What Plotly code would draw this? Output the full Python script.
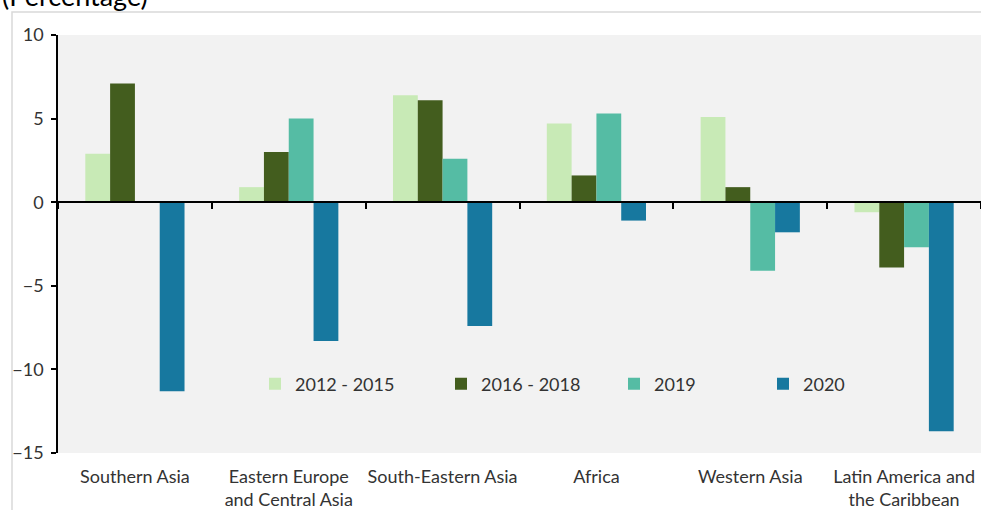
import plotly.graph_objects as go

categories = ["Southern Asia", "Eastern Europe<br>and Central Asia", "South-Eastern Asia",
              "Africa", "Western Asia", "Latin America and<br>the Caribbean"]
series_names = ["2012 - 2015", "2016 - 2018", "2019", "2020"]
v_2012_2015 = [2.9, 0.9, 6.4, 4.7, 5.1, -0.6]
v_2016_2018 = [7.1, 3.0, 6.1, 1.6, 0.9, -3.9]
v_2019 = [None, 5.0, 2.6, 5.3, -4.1, -2.7]
v_2020 = [-11.3, -8.3, -7.4, -1.1, -1.8, -13.7]
y_ticks = [-15, -10, -5, 0, 5, 10]

colors = ["#c8eab6", "#435d1e", "#55bca4", "#17789f"]
values = [v_2012_2015, v_2016_2018, v_2019, v_2020]
legend_ids = ["legend", "legend2", "legend3", "legend4"]
legend_px = [255, 441, 614, 763]   # left pixel of each legend entry

W, H = 981, 510
ml, mr, mt, mb = 58, 0, 35, 57
pw = W - ml - mr
ph = H - mt - mb

font_family = "Lato, 'Open Sans', sans-serif"
txt_col = "#333333"
fs = 18

fig = go.Figure()
for name, vals, col, lid in zip(series_names, values, colors, legend_ids):
    fig.add_trace(go.Bar(x=categories, y=vals, name=name, legend=lid,
                         marker=dict(color=col, line=dict(width=0))))

# invisible trace on the crossing axis so it renders
fig.add_trace(go.Scatter(x=categories, y=[0] * len(categories), xaxis="x2", yaxis="y",
                         mode="markers", marker=dict(opacity=0), showlegend=False,
                         hoverinfo="skip"))

legends = {}
for lid, px in zip(legend_ids, legend_px):
    legends[lid] = dict(orientation="h", x=(px - ml) / pw, xanchor="left",
                        y=(H - mb - 384) / ph, yanchor="middle",
                        bgcolor="rgba(0,0,0,0)", borderwidth=0,
                        font=dict(size=fs, color=txt_col, family=font_family))

fig.update_layout(
    width=W, height=H,
    margin=dict(l=ml, r=mr, t=mt, b=mb, autoexpand=False),
    paper_bgcolor="white",
    plot_bgcolor="#f2f2f2",
    barmode="group",
    bargap=0.355,
    bargroupgap=0,
    font=dict(family=font_family, size=fs, color=txt_col),
    xaxis=dict(type="category", categoryarray=categories, range=[-0.5, 5.5],
               showline=False, ticks="", showgrid=False, zeroline=False, automargin=False,
               tickfont=dict(size=fs, color=txt_col), ticklabelstandoff=11),
    xaxis2=dict(type="category", categoryarray=categories, range=[-0.5, 5.5],
                overlaying="x", anchor="free", position=15 / 25, automargin=False,
                showline=True, linecolor="#000000", linewidth=1.5,
                ticks="outside", tickson="boundaries", ticklen=6, tickwidth=1.5,
                tickcolor="#000000", showticklabels=False, showgrid=False, zeroline=False),
    yaxis=dict(range=[-15, 10], tickvals=y_ticks, showgrid=False, automargin=False,
               showline=True, linecolor="#000000", linewidth=1.5,
               ticks="outside", ticklen=5, tickwidth=1.5, tickcolor="#000000",
               zeroline=False, tickfont=dict(size=fs, color=txt_col),
               ticklabelstandoff=4),
    showlegend=True,
    **legends,
)

# outer frame border
fig.add_shape(type="rect", xref="paper", yref="paper",
              x0=(12 - ml) / pw, x1=(W + 20 - ml) / pw,
              y0=-(H + 20 - mt - ph) / ph, y1=1 + (mt - 12) / ph,
              line=dict(color="#d9d9d9", width=1.5), fillcolor="rgba(0,0,0,0)", layer="below")

fig.add_annotation(text="(Percentage)", xref="paper", yref="paper",
                   x=-ml / pw, xanchor="left", y=1 + (mt - 14) / ph, yanchor="bottom",
                   showarrow=False, font=dict(size=27, color="#000000", family=font_family))

fig.write_html("out.html", config={"displayModeBar": False},
               post_script="document.body.style.margin='0';")
